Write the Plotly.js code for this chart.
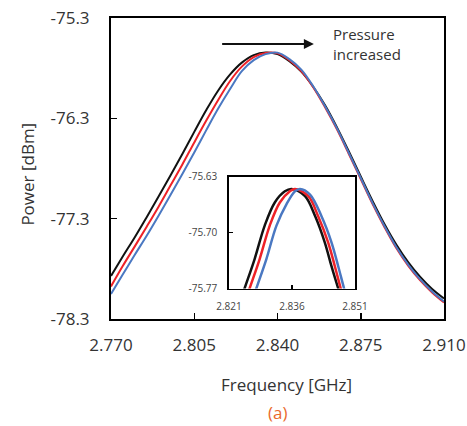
<!DOCTYPE html>
<html>
<head>
<meta charset="utf-8">
<script src="https://cdn.plot.ly/plotly-3.0.1.min.js"></script>
<style>html,body{margin:0;padding:0;background:#fff;}#chart{width:467px;height:426px;}</style>
</head>
<body>
<div id="chart"></div>
<script>
// ---- Main chart data (frequency in GHz, power in dBm) ----
const freq = [2.770, 2.775, 2.780, 2.785, 2.790, 2.795, 2.800, 2.805, 2.810, 2.815,
              2.820, 2.825, 2.830, 2.835, 2.840, 2.845, 2.850, 2.855, 2.860, 2.865,
              2.870, 2.875, 2.880, 2.885, 2.890, 2.895, 2.900, 2.905, 2.910];
const powerBlack = [-77.870, -77.675, -77.485, -77.285, -77.080, -76.870, -76.655, -76.435, -76.220, -76.025,
                    -75.865, -75.745, -75.670, -75.644, -75.660, -75.730, -75.835, -75.985, -76.170, -76.390,
                    -76.630, -76.880, -77.125, -77.355, -77.560, -77.735, -77.880, -78.000, -78.095];
const powerRed   = [-77.975, -77.770, -77.576, -77.380, -77.180, -76.970, -76.760, -76.540, -76.325, -76.120,
                    -75.930, -75.785, -75.690, -75.648, -75.652, -75.720, -75.830, -75.990, -76.190, -76.410,
                    -76.655, -76.905, -77.155, -77.385, -77.595, -77.770, -77.915, -78.035, -78.135];
const powerBlue  = [-78.050, -77.855, -77.660, -77.470, -77.270, -77.065, -76.855, -76.640, -76.420, -76.205,
                    -76.010, -75.830, -75.720, -75.660, -75.645, -75.710, -75.815, -75.980, -76.180, -76.400,
                    -76.645, -76.895, -77.145, -77.375, -77.585, -77.760, -77.905, -78.025, -78.125];

// ---- Inset (zoom on peak) data ----
const insetFreqBlack = [2.8237, 2.8247, 2.8271, 2.8295, 2.8319, 2.8343, 2.8359, 2.8391, 2.8415, 2.8438, 2.8454, 2.8470, 2.8480];
const insetFreqRed   = [2.8249, 2.8259, 2.8283, 2.8307, 2.8331, 2.8355, 2.8367, 2.8399, 2.8422, 2.8446, 2.8462, 2.8476, 2.8486];
const insetFreqBlue  = [2.8265, 2.8275, 2.8299, 2.8323, 2.8347, 2.8367, 2.8379, 2.8403, 2.8430, 2.8454, 2.8470, 2.8484, 2.8494];
const insetPowerBlack = [-75.786, -75.770, -75.733, -75.691, -75.662, -75.648, -75.645, -75.654, -75.679, -75.712, -75.742, -75.770, -75.788];
const insetPowerRed   = [-75.786, -75.770, -75.733, -75.691, -75.662, -75.648, -75.645, -75.654, -75.679, -75.712, -75.742, -75.770, -75.788];
const insetPowerBlue  = [-75.786, -75.770, -75.733, -75.691, -75.664, -75.648, -75.645, -75.652, -75.679, -75.712, -75.742, -75.770, -75.788];

// ---- Tick labels ----
const xTicks = [2.770, 2.805, 2.840, 2.875, 2.910];
const yTicks = [-75.3, -76.3, -77.3, -78.3];
const insetXTicks = [2.821, 2.836, 2.851];
const insetYTicks = [-75.63, -75.70, -75.77];

const colBlack = '#111111', colRed = '#ee2228', colBlue = '#4a78c2';
const FONT = '"Open Sans", "DejaVu Sans", sans-serif';

function line(x, y, color, w, xa, ya) {
  return {x: x, y: y, type: 'scatter', mode: 'lines', xaxis: xa, yaxis: ya,
          line: {color: color, width: w, shape: 'spline', smoothing: 1}, hoverinfo: 'skip', showlegend: false};
}

const data = [
  line(freq, powerBlack, colBlack, 2, 'x', 'y'),
  line(freq, powerRed, colRed, 2, 'x', 'y'),
  line(freq, powerBlue, colBlue, 2, 'x', 'y'),
  line(insetFreqBlack, insetPowerBlack, colBlack, 2.5, 'x2', 'y2'),
  line(insetFreqRed, insetPowerRed, colRed, 2.5, 'x2', 'y2'),
  line(insetFreqBlue, insetPowerBlue, colBlue, 2.5, 'x2', 'y2')
];

const layout = {
  width: 467, height: 426,
  margin: {l: 111, r: 23, t: 18, b: 107},
  paper_bgcolor: '#ffffff', plot_bgcolor: '#ffffff',
  font: {family: FONT, color: '#333333', size: 17},
  showlegend: false,
  xaxis: {
    range: [2.770, 2.910], tickvals: xTicks, ticktext: xTicks.map(v => v.toFixed(3)),
    ticks: 'inside', ticklen: 6, tickwidth: 1.5, tickcolor: '#000',
    showline: true, mirror: true, linecolor: '#000', linewidth: 2,
    showgrid: false, zeroline: false, ticklabelstandoff: 10,
    tickfont: {size: 17, color: '#333333', family: FONT}
  },
  yaxis: {
    range: [-78.3, -75.3], tickvals: yTicks, ticktext: yTicks.map(v => v.toFixed(1)),
    ticks: 'inside', ticklen: 6, tickwidth: 1.5, tickcolor: '#000',
    showline: true, mirror: true, linecolor: '#000', linewidth: 2,
    showgrid: false, zeroline: false, ticklabelstandoff: 16,
    tickfont: {size: 17, color: '#333333', family: FONT}
  },
  xaxis2: {
    domain: [0.3544, 0.7327], anchor: 'y2',
    range: [2.821, 2.851], tickvals: insetXTicks, ticktext: insetXTicks.map(v => v.toFixed(3)),
    ticks: 'inside', ticklen: 4, tickwidth: 1.5, tickcolor: '#000',
    showline: true, mirror: true, linecolor: '#000', linewidth: 1.8,
    showgrid: false, zeroline: false, ticklabelstandoff: 8,
    tickfont: {size: 10, color: '#444444', family: FONT}
  },
  yaxis2: {
    domain: [0.1013, 0.4718], anchor: 'x2',
    range: [-75.77, -75.63], tickvals: insetYTicks, ticktext: insetYTicks.map(v => v.toFixed(2)),
    ticks: 'inside', ticklen: 4, tickwidth: 1.5, tickcolor: '#000',
    showline: true, mirror: true, linecolor: '#000', linewidth: 1.8,
    showgrid: false, zeroline: false, ticklabelstandoff: 8,
    tickfont: {size: 10, color: '#444444', family: FONT}
  },
  shapes: [{type: 'rect', xref: 'x2 domain', yref: 'y2 domain', x0: 0, x1: 1, y0: 0, y1: 1,
            fillcolor: '#ffffff', line: {width: 0}, layer: 'below'}],
  annotations: [
    {text: 'Frequency [GHz]', xref: 'paper', yref: 'paper', x: 0.528, y: -0.219,
     xanchor: 'center', yanchor: 'middle', showarrow: false, font: {size: 17, color: '#333333'}},
    {text: 'Power [dBm]', xref: 'paper', yref: 'paper', x: -0.252, y: 0.48,
     xanchor: 'center', yanchor: 'middle', textangle: -90, showarrow: false, font: {size: 17, color: '#333333'}},
    {text: '(a)', xref: 'paper', yref: 'paper', x: 0.499, y: -0.312,
     xanchor: 'center', yanchor: 'middle', showarrow: false, font: {size: 17, color: '#ea6a2c'}},
    {text: 'Pressure<br>increased', xref: 'x', yref: 'y', x: 2.8627, y: -75.56,
     xanchor: 'left', yanchor: 'middle', align: 'left', showarrow: false, font: {size: 15, color: '#333333'}},
    {text: '', xref: 'x', yref: 'y', axref: 'x', ayref: 'y', x: 2.8553, y: -75.56, ax: 2.8161, ay: -75.56,
     showarrow: true, arrowhead: 2, arrowsize: 1, arrowwidth: 2, arrowcolor: '#111111', standoff: 0}
  ]
};

Plotly.newPlot('chart', data, layout, {displayModeBar: false, staticPlot: true});
</script>
</body>
</html>
